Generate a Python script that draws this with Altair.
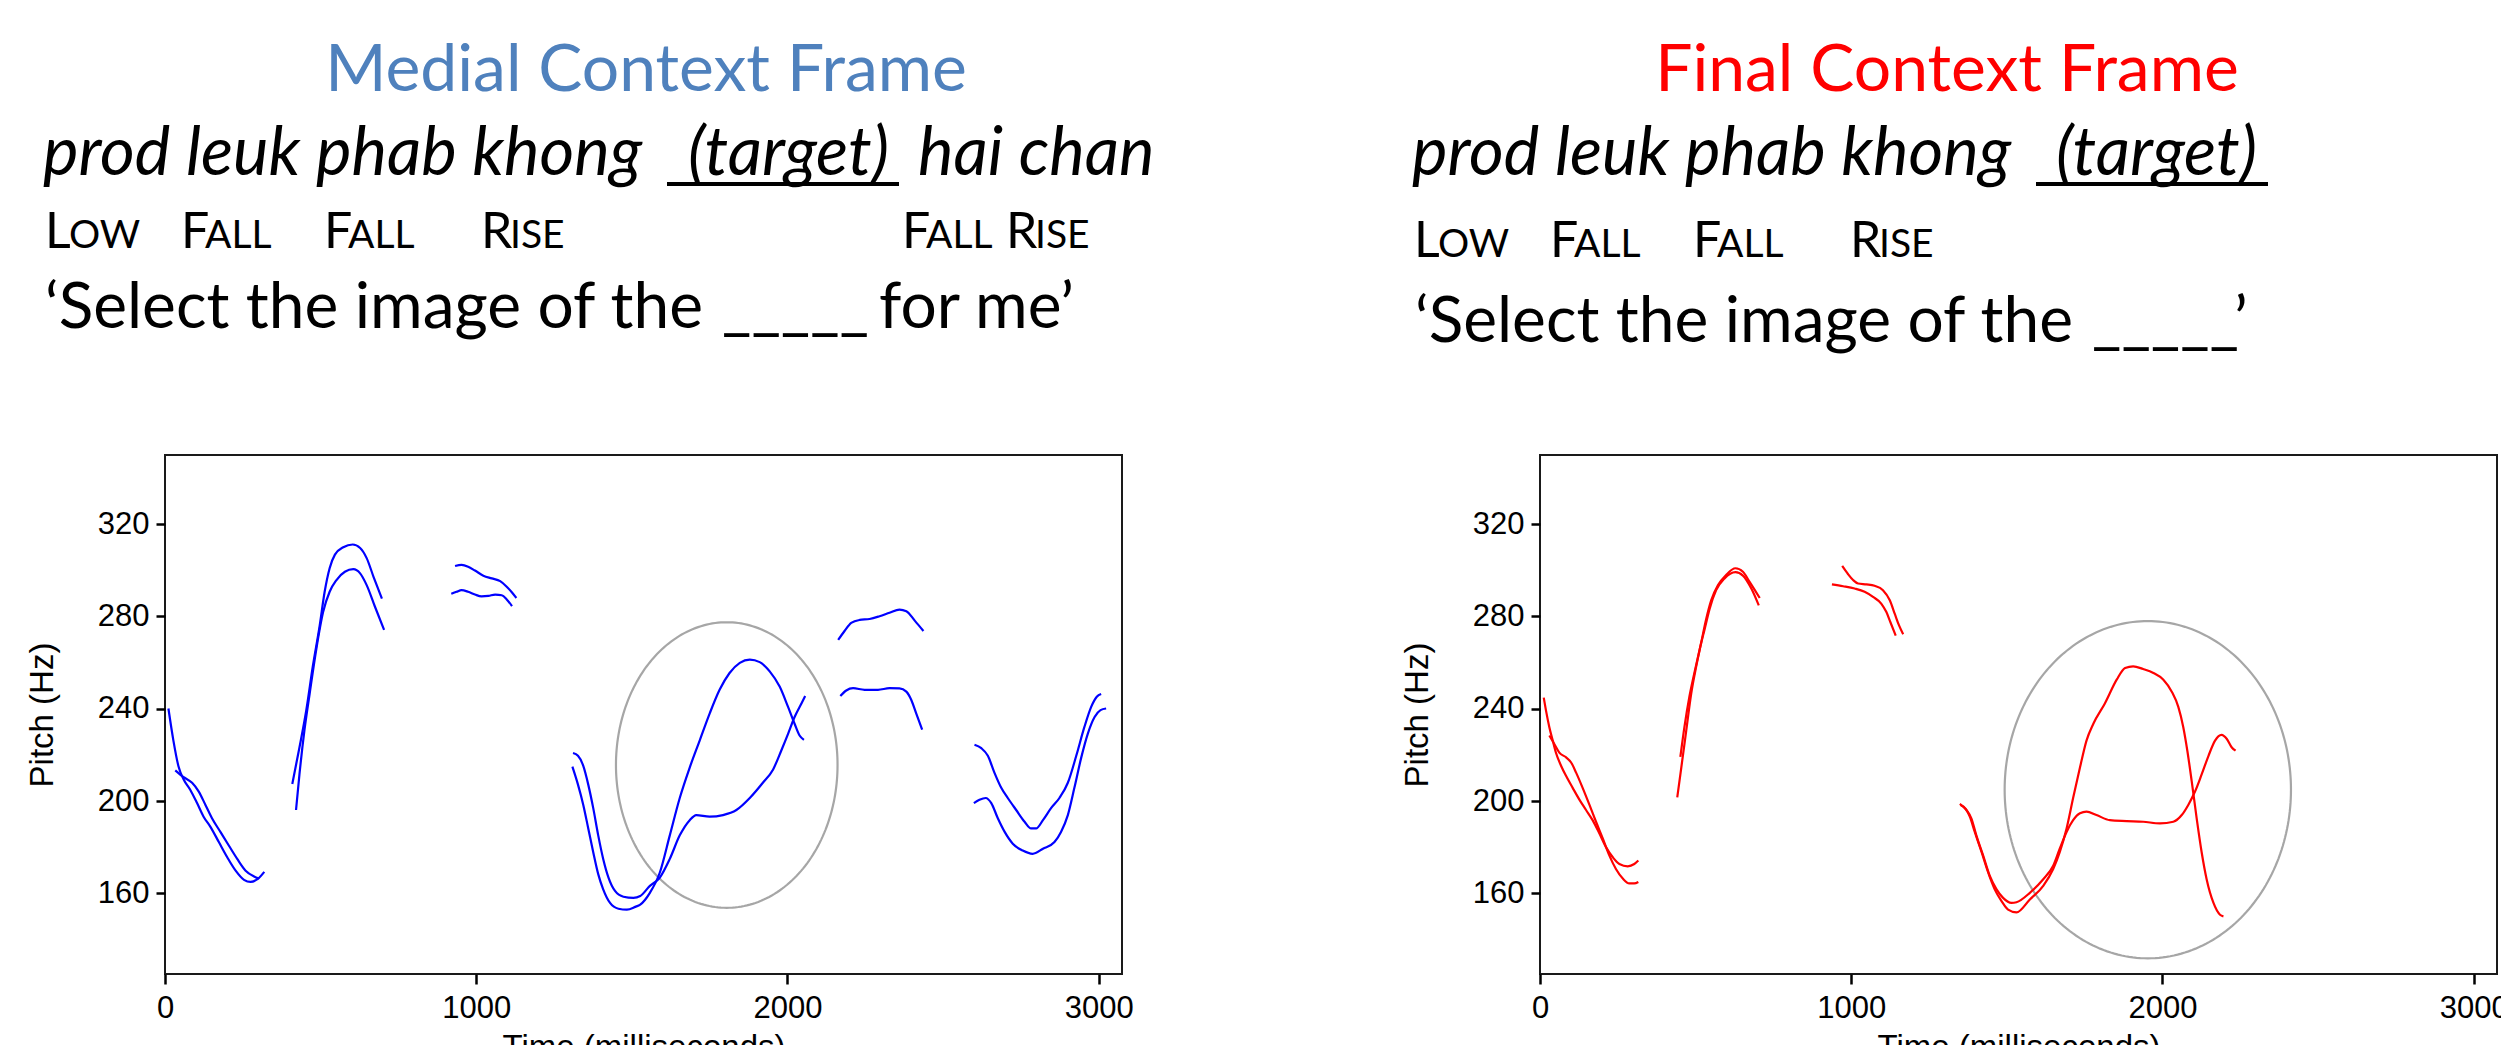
import altair as alt
import numpy as np
import pandas as pd

# ------------------------------------------------------------------ data
# Medial context frame (blue) : pitch tracks, time in ms, pitch in Hz
MED_C1A_MS = [11, 27, 43, 60, 81, 103, 124, 146, 173, 200, 227, 254, 275, 297, 319]
MED_C1A_HZ = [240.1, 226.2, 215.2, 209.3, 204.9, 199.1, 193.2, 188.8, 182.2, 175.6, 169.8, 165.8, 164.9, 166.1, 169.3]
MED_C1B_MS = [33, 60, 87, 108, 130, 151, 178, 205, 232, 259, 286, 302]
MED_C1B_HZ = [213.3, 210.3, 207.9, 204.2, 198.3, 192.5, 186.6, 180.7, 174.9, 169.8, 167.3, 166.4]
MED_C2A_MS = [409, 432, 454, 475, 497, 513, 529, 546, 573, 603, 627, 648, 670, 697]
MED_C2A_HZ = [207.4, 223.2, 239.4, 258.4, 276.0, 290.7, 300.9, 306.8, 310.0, 311.2, 309.7, 305.3, 297.2, 287.7]
MED_C2B_MS = [421, 432, 448, 465, 486, 508, 529, 551, 578, 605, 627, 648, 675, 704]
MED_C2B_HZ = [196.1, 211.5, 230.6, 246.7, 265.7, 281.9, 290.7, 295.8, 299.4, 300.5, 298.7, 293.6, 284.1, 274.2]
MED_C3A_MS = [932, 953, 974, 996, 1023, 1050, 1077, 1098, 1115, 1129]
MED_C3A_HZ = [301.9, 302.4, 301.6, 299.9, 297.7, 296.5, 295.3, 292.9, 290.4, 288.0]
MED_C3B_MS = [920, 937, 953, 974, 996, 1017, 1039, 1061, 1082, 1098, 1115]
MED_C3B_HZ = [289.8, 290.7, 291.4, 290.7, 289.5, 288.7, 288.9, 289.5, 289.2, 287.4, 284.5]
MED_C4A_MS = [1311, 1327, 1344, 1360, 1376, 1392, 1408, 1425, 1446, 1473, 1505, 1527, 1558, 1590, 1622,
              1654, 1686, 1707, 1750, 1793, 1836, 1879, 1921, 1954, 1980, 2002, 2023, 2045, 2057]
MED_C4A_HZ = [220.8, 219.6, 215.2, 207.1, 196.9, 185.1, 174.9, 166.8, 161.0, 158.5, 158.0, 158.8, 163.2, 166.8, 174.9,
              185.1, 191.7, 193.9, 193.2, 193.9, 196.1, 201.3, 207.9, 213.7, 221.8, 229.1, 236.4, 242.3, 245.5]
MED_C4B_MS = [1309, 1327, 1344, 1360, 1376, 1392, 1408, 1430, 1457, 1484, 1511, 1527, 1558, 1590, 1622,
              1654, 1686, 1718, 1750, 1782, 1814, 1847, 1879, 1911, 1943, 1975, 2002, 2023, 2039, 2053]
MED_C4B_HZ = [214.9, 207.1, 198.3, 188.1, 177.8, 168.3, 161.7, 155.8, 153.3, 152.9, 154.1, 155.1, 160.2, 169.0, 185.1,
              201.3, 214.5, 226.2, 237.9, 248.2, 255.5, 259.9, 261.3, 260.2, 256.2, 249.6, 240.8, 233.5, 228.4, 226.5]
MED_C5A_MS = [2163, 2184, 2205, 2232, 2264, 2296, 2328, 2360, 2382, 2409, 2437]
MED_C5A_HZ = [269.8, 273.8, 277.2, 278.5, 278.9, 280.1, 281.6, 283.0, 282.3, 278.2, 273.7]
MED_C5B_MS = [2170, 2189, 2211, 2248, 2291, 2328, 2360, 2382, 2398, 2414, 2433]
MED_C5B_HZ = [245.5, 247.9, 248.9, 248.2, 248.2, 248.9, 248.8, 247.4, 243.8, 237.9, 230.9]
MED_C6A_MS = [2601, 2623, 2644, 2665, 2687, 2708, 2735, 2762, 2783, 2799, 2821, 2847, 2874, 2901, 2928,
              2954, 2976, 2994, 3008]
MED_C6A_HZ = [224.4, 222.9, 219.6, 212.3, 205.7, 201.3, 196.1, 191.0, 188.1, 188.1, 191.7, 196.9, 201.3, 207.9, 219.6,
              232.0, 240.8, 245.2, 246.4]
MED_C6B_MS = [2599, 2617, 2637, 2655, 2676, 2698, 2724, 2756, 2788, 2821, 2858, 2879, 2901, 2922, 2944,
              2965, 2987, 3006, 3024]
MED_C6B_HZ = [199.1, 200.5, 201.3, 199.1, 192.5, 186.6, 181.5, 178.5, 177.1, 179.3, 182.2, 186.6, 193.9, 205.7, 218.8,
              229.1, 236.4, 239.4, 240.1]

# Final context frame (red)
FIN_C1A_MS = [12, 19, 30, 41, 51, 68, 84, 105, 127, 148, 169, 191, 212, 234, 255, 282, 303, 316]
FIN_C1A_HZ = [244.8, 239.4, 232.0, 226.2, 221.0, 215.2, 210.8, 205.7, 200.5, 196.1, 191.7, 185.9, 180.0, 175.6, 172.7,
              171.7, 172.7, 174.2]
FIN_C1B_MS = [30, 46, 62, 84, 100, 116, 137, 159, 180, 202, 223, 244, 266, 287, 303, 316]
FIN_C1B_HZ = [228.4, 224.7, 221.0, 218.9, 216.7, 212.3, 205.7, 198.3, 191.0, 183.7, 176.3, 170.5, 166.4, 164.3, 164.3, 164.9]
FIN_C2A_MS = [441, 454, 470, 486, 502, 518, 534, 550, 572, 598, 628, 652, 673, 706]
FIN_C2A_HZ = [201.6, 214.5, 230.6, 246.7, 258.4, 268.7, 278.9, 287.0, 293.6, 298.0, 300.9, 299.4, 295.1, 288.0]
FIN_C2B_MS = [451, 464, 480, 496, 513, 529, 545, 566, 593, 628, 652, 679, 703]
FIN_C2B_HZ = [219.1, 232.0, 245.2, 255.5, 265.7, 274.5, 283.3, 291.4, 296.5, 299.2, 297.7, 292.1, 284.8]
FIN_C3A_MS = [971, 990, 1006, 1022, 1049, 1075, 1102, 1124, 1140, 1154, 1167]
FIN_C3A_HZ = [301.9, 298.3, 295.8, 294.3, 293.9, 293.3, 291.4, 287.0, 281.1, 276.0, 272.3]
FIN_C3B_MS = [938, 974, 1011, 1043, 1070, 1097, 1113, 1126, 1143]
FIN_C3B_HZ = [293.9, 293.1, 292.1, 290.7, 288.5, 285.5, 281.9, 277.5, 271.7]
FIN_C4A_MS = [1349, 1370, 1386, 1402, 1424, 1445, 1467, 1488, 1515, 1531, 1574, 1617, 1649, 1670, 1692, 1713, 1735,
              1756, 1788, 1831, 1885, 1938, 1992, 2035, 2062, 2083, 2105, 2126, 2148, 2169, 2190, 2207, 2223, 2235]
FIN_C4A_HZ = [198.8, 196.1, 192.5, 185.1, 176.3, 167.6, 161.7, 158.0, 155.8, 156.1, 160.2, 166.1, 171.9, 179.3, 186.6,
              191.7, 194.7, 195.4, 193.9, 191.7, 191.3, 191.0, 190.3, 191.0, 193.9, 198.3, 204.2, 211.5, 219.6, 226.2,
              228.7, 226.9, 223.2, 221.8]
FIN_C4B_MS = [1351, 1368, 1381, 1397, 1419, 1440, 1461, 1483, 1504, 1531, 1574, 1617, 1649, 1670, 1692, 1713, 1735,
              1756, 1778, 1815, 1853, 1880, 1906, 1938, 1971, 2003, 2030, 2051, 2067, 2080, 2094, 2110, 2126, 2142,
              2164, 2185, 2196]
FIN_C4B_HZ = [198.3, 196.6, 193.2, 186.6, 177.8, 169.0, 161.7, 156.6, 152.9, 151.7, 157.3, 163.2, 170.5, 177.8, 188.1,
              201.3, 214.5, 226.2, 233.5, 242.3, 252.6, 257.7, 258.4, 257.2, 255.5, 252.6, 247.4, 240.8, 232.0, 221.8,
              208.6, 192.5, 177.8, 166.1, 155.8, 150.7, 150.0]

# highlight ellipses: centre (ms, Hz) and radii (ms, Hz)
MED_ELLIPSE = [1805, 215.6, 356, 61.9]
FIN_ELLIPSE = [1953, 204.9, 460, 73.1]

X_TICKS = [0, 1000, 2000, 3000]
Y_TICKS = [160, 200, 240, 280, 320]
X_DOMAIN = [0, 3075]
Y_DOMAIN = [125, 350]

# texts
MED_TITLE = "Medial Context Frame"
FIN_TITLE = "Final Context Frame"
MED_PHRASE = ["prod leuk phab khong", "(target)", "hai chan"]
FIN_PHRASE = ["prod leuk phab khong", "(target)"]
MED_TONES = ["Low", "Fall", "Fall", "Rise", "Fall", "Rise"]
FIN_TONES = ["Low", "Fall", "Fall", "Rise"]
MED_GLOSS = ["\u2018Select the image of the", "_____", "for me\u2019"]
FIN_GLOSS = ["\u2018Select the image of the", "_____", "\u2019"]

# ------------------------------------------------------------------ layout / style
W, H = 957, 519
TXT_FONT = "Lato"
AX_FONT = "Liberation Sans"

MED_LAYOUT = dict(
    title_x=481, title_y=-364, title_color="#4F81BD",
    phrase_x=[-122, 523, 753], phrase_y=-280,
    underline=(502, 734, -271),
    tone_x=[(-120, -96), (16, 40), (159, 183), (316, 345), (737, 761), (841, 870)], tone_y=-207,
    gloss_x=[-120, 557, 714], gloss_y=-127,
)
FIN_LAYOUT = dict(
    title_x=407, title_y=-364, title_color="#FF0000",
    phrase_x=[-128, 516], phrase_y=-280,
    underline=(496, 728, -271),
    tone_x=[(-126, -102), (10, 34), (153, 177), (310, 339)], tone_y=-198,
    gloss_x=[-125, 552, 694], gloss_y=-113,
)


def curves_frame(named):
    rows = []
    for name, (ms, hz) in named.items():
        for i, (a, b) in enumerate(zip(ms, hz)):
            rows.append({"curve": name, "idx": i, "ms": a, "hz": b})
    return pd.DataFrame(rows)


def ellipse_frame(e):
    cx, cy, rx, ry = e
    t = np.linspace(0, 2 * np.pi, 241)
    return pd.DataFrame({"idx": np.arange(len(t)), "ms": cx + rx * np.cos(t), "hz": cy + ry * np.sin(t)})


def x_enc():
    return alt.X("ms:Q", scale=alt.Scale(domain=X_DOMAIN, nice=False, zero=False),
                 axis=alt.Axis(values=X_TICKS, format="d", title="Time (milliseconds)", grid=False,
                               domain=False, tickSize=10, tickWidth=2.5, tickColor="black",
                               labelFont=AX_FONT, labelFontSize=31, labelColor="black", labelPadding=9,
                               labelFlush=False, labelOverlap=False, titleFont=AX_FONT, titleFontSize=33,
                               titleFontWeight="normal", titleColor="black", titlePadding=8))


def y_enc():
    return alt.Y("hz:Q", scale=alt.Scale(domain=Y_DOMAIN, nice=False, zero=False),
                 axis=alt.Axis(values=Y_TICKS, format="d", title="Pitch (Hz)", grid=False,
                               domain=False, tickSize=9, tickWidth=2.5, tickColor="black",
                               labelFont=AX_FONT, labelFontSize=31, labelColor="black", labelPadding=7,
                               labelOverlap=False, titleFont=AX_FONT, titleFontSize=33,
                               titleFontWeight="normal", titleColor="black", titlePadding=38))


def txt(s, x, y, size, style="normal", color="black", align="left"):
    return alt.Chart(pd.DataFrame({"t": [s]})).mark_text(
        align=align, baseline="alphabetic", font=TXT_FONT, fontSize=size, fontStyle=style, color=color
    ).encode(x=alt.value(x), y=alt.value(y), text="t:N")


def hrule(x1, x2, y, width, opacity=1.0):
    return alt.Chart(pd.DataFrame({"a": [0]})).mark_rule(
        color="black", strokeWidth=width, opacity=opacity
    ).encode(x=alt.value(x1), x2=alt.value(x2), y=alt.value(y))


def panel(named, ell, line_color, title, phrase, tones, gloss, L):
    layers = [
        alt.Chart(ellipse_frame(ell)).mark_line(color="#A6A6A6", strokeWidth=2.2).encode(
            x=x_enc(), y=y_enc(), order="idx:Q"),
        alt.Chart(curves_frame(named)).mark_line(color=line_color, strokeWidth=2.2, interpolate="monotone").encode(
            x=x_enc(), y=y_enc(), detail="curve:N", order="idx:Q"),
        txt(title, L["title_x"], L["title_y"], 66, color=L["title_color"], align="center"),
    ]
    for s, x in zip(phrase, L["phrase_x"]):
        layers.append(txt(s, x, L["phrase_y"], 67, style="italic"))
    u1, u2, uy = L["underline"]
    layers.append(hrule(u1, u2, uy, 4))
    for word, (xa, xb) in zip(tones, L["tone_x"]):
        layers.append(txt(word[0].upper(), xa, L["tone_y"], 50))
        layers.append(txt(word[1:].upper(), xb, L["tone_y"], 39))
    for s, x in zip(gloss, L["gloss_x"]):
        layers.append(txt(s, x, L["gloss_y"], 64))
    # invisible frame fixing the panel's layout bounds
    layers.append(hrule(-150, 1000, -440, 1, opacity=0))
    return alt.layer(*layers).properties(width=W, height=H)


med = panel({"c1a": (MED_C1A_MS, MED_C1A_HZ), "c1b": (MED_C1B_MS, MED_C1B_HZ),
             "c2a": (MED_C2A_MS, MED_C2A_HZ), "c2b": (MED_C2B_MS, MED_C2B_HZ),
             "c3a": (MED_C3A_MS, MED_C3A_HZ), "c3b": (MED_C3B_MS, MED_C3B_HZ),
             "c4a": (MED_C4A_MS, MED_C4A_HZ), "c4b": (MED_C4B_MS, MED_C4B_HZ),
             "c5a": (MED_C5A_MS, MED_C5A_HZ), "c5b": (MED_C5B_MS, MED_C5B_HZ),
             "c6a": (MED_C6A_MS, MED_C6A_HZ), "c6b": (MED_C6B_MS, MED_C6B_HZ)},
            MED_ELLIPSE, "#0000FF", MED_TITLE, MED_PHRASE, MED_TONES, MED_GLOSS, MED_LAYOUT)

fin = panel({"c1a": (FIN_C1A_MS, FIN_C1A_HZ), "c1b": (FIN_C1B_MS, FIN_C1B_HZ),
             "c2a": (FIN_C2A_MS, FIN_C2A_HZ), "c2b": (FIN_C2B_MS, FIN_C2B_HZ),
             "c3a": (FIN_C3A_MS, FIN_C3A_HZ), "c3b": (FIN_C3B_MS, FIN_C3B_HZ),
             "c4a": (FIN_C4A_MS, FIN_C4A_HZ), "c4b": (FIN_C4B_MS, FIN_C4B_HZ)},
            FIN_ELLIPSE, "#FF0000", FIN_TITLE, FIN_PHRASE, FIN_TONES, FIN_GLOSS, FIN_LAYOUT)

chart = alt.hconcat(med, fin, spacing=223).properties(
    autosize=alt.AutoSizeParams(type="none"),
    padding={"left": 157, "top": 447, "right": 2336, "bottom": 590},
).configure_view(stroke="#1a1a1a", strokeWidth=2)

chart.save("out.html", embed_options={"renderer": "svg", "actions": False})
